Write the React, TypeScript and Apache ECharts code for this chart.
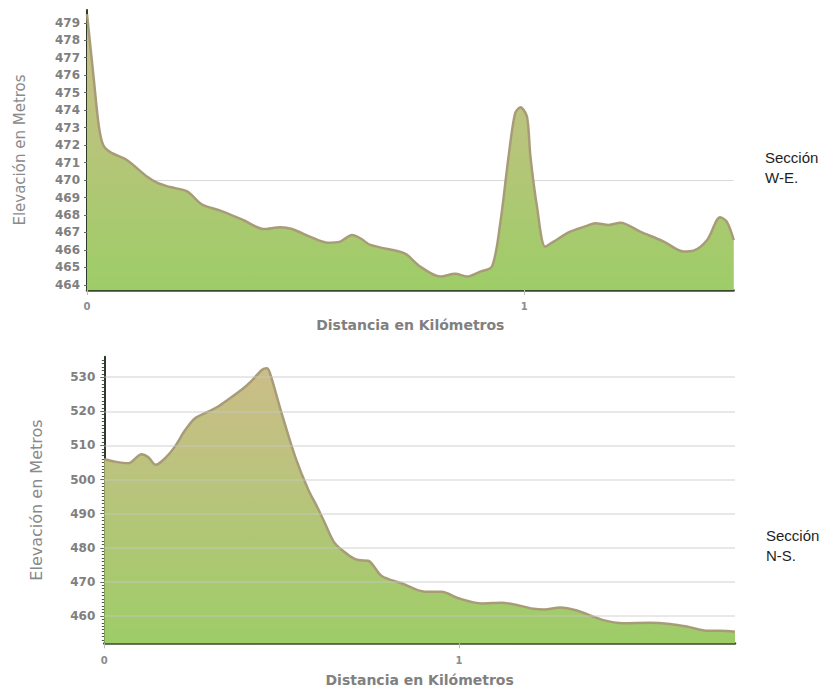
import React, { useEffect, useRef } from "react";
import * as echarts from "echarts";

// W-E section (top)
const weKm = [0, 0.015, 0.027, 0.037, 0.053, 0.091, 0.137, 0.16, 0.19, 0.229, 0.263, 0.305, 0.358, 0.404, 0.442, 0.469, 0.511, 0.549, 0.579, 0.606, 0.625, 0.648, 0.716, 0.732, 0.762, 0.808, 0.842, 0.869, 0.899, 0.926, 0.945, 0.964, 0.979, 0.991, 1.006, 1.014, 1.029, 1.048, 1.067, 1.105, 1.143, 1.162, 1.193, 1.22, 1.265, 1.319, 1.364, 1.387, 1.418, 1.448, 1.463, 1.479];
const weElev = [479.5, 475.9, 473.1, 472.0, 471.6, 471.15, 470.2, 469.85, 469.6, 469.35, 468.6, 468.25, 467.7, 467.2, 467.3, 467.2, 466.75, 466.42, 466.48, 466.86, 466.67, 466.29, 465.9, 465.72, 465.05, 464.48, 464.64, 464.48, 464.76, 465.05, 467.53, 471.34, 473.82, 474.16, 473.63, 471.34, 468.48, 466.19, 466.48, 467.05, 467.38, 467.53, 467.43, 467.56, 467.05, 466.48, 465.91, 465.96, 466.57, 467.87, 467.62, 466.57];
const weYTicks = [464, 465, 466, 467, 468, 469, 470, 471, 472, 473, 474, 475, 476, 477, 478, 479];
const weGrid = [470];

// N-S section (bottom)
const nsKm = [0, 0.03, 0.068, 0.105, 0.124, 0.145, 0.171, 0.199, 0.228, 0.256, 0.293, 0.321, 0.35, 0.387, 0.416, 0.444, 0.458, 0.467, 0.5, 0.538, 0.575, 0.6, 0.622, 0.65, 0.688, 0.716, 0.744, 0.782, 0.838, 0.904, 0.951, 0.998, 1.064, 1.12, 1.177, 1.21, 1.24, 1.285, 1.332, 1.407, 1.463, 1.538, 1.595, 1.642, 1.698, 1.736, 1.778];
const nsElev = [505.95, 505.25, 504.8, 507.4, 506.5, 504.3, 506.2, 509.65, 514.5, 517.97, 519.9, 521.4, 523.5, 526.3, 529.0, 532.1, 532.6, 531.2, 519.4, 506.7, 497.0, 492.0, 487.2, 481.3, 477.9, 476.4, 476.2, 471.7, 469.6, 467.1, 467.1, 465.2, 463.7, 463.9, 462.9, 462.1, 461.9, 462.5, 461.6, 458.8, 457.9, 458.0, 457.65, 456.9, 455.7, 455.7, 455.4];
const nsYTicks = [460, 470, 480, 490, 500, 510, 520, 530];

const xTicks = [0, 1];
const weXMax = 1.4786;
const nsXMax = 1.778;

const labelGray = "#808080";

function areaGradient() {
  return new echarts.graphic.LinearGradient(0, 0, 0, 1, [
    { offset: 0, color: "#cbbd88" },
    { offset: 0.45, color: "#b8c47b" },
    { offset: 1, color: "#9dcd67" },
  ]);
}

export default function App() {
  const ref = useRef<HTMLDivElement>(null);
  useEffect(() => {
    if (!ref.current) return;
    const chart = echarts.init(ref.current, undefined, { renderer: "svg" });
    const weData = weKm.map((k, i) => [k, weElev[i]]);
    const nsData = nsKm.map((k, i) => [k, nsElev[i]]);

    const xAxisCommon = (gridIndex: number, max: number, gap: number, margin: number) => ({
      gridIndex,
      type: "value",
      min: 0,
      max,
      axisLine: { show: true, onZero: false, lineStyle: { color: "#3b4a2e", width: 2.5 } },
      axisTick: { show: true, customValues: xTicks, length: 5, lineStyle: { color: "#bbbbbb" } },
      axisLabel: {
        customValues: xTicks,
        margin,
        fontSize: 10,
        fontWeight: "bold",
        color: "#8c8c8c",
        fontFamily: "DejaVu Sans",
      },
      splitLine: { show: false },
      name: "Distancia en Kilómetros",
      nameLocation: "middle",
      nameGap: gap,
      nameTextStyle: { fontSize: 14, fontWeight: "bold", color: labelGray, fontFamily: "DejaVu Sans" },
    });

    const option: any = {
      animation: false,
      grid: [
        { left: 87, top: 10, width: 646.6, height: 280 },
        { left: 104.3, top: 356.7, width: 630.7, height: 286.6 },
      ],
      xAxis: [xAxisCommon(0, weXMax, 28, 11), xAxisCommon(1, nsXMax, 30, 12)],
      yAxis: [
        {
          gridIndex: 0,
          type: "value",
          min: 463.71,
          max: 479.73,
          axisLine: { show: true, onZero: false, lineStyle: { color: "#2d3a26", width: 2 } },
          axisTick: { show: true, customValues: weYTicks, length: 3, lineStyle: { color: "#666" } },
          axisLabel: {
            customValues: weYTicks,
            margin: 7,
            fontSize: 12,
            fontWeight: "bold",
            color: labelGray,
            fontFamily: "DejaVu Sans",
          },
          splitLine: { show: false },
          name: "Elevación en Metros",
          nameLocation: "middle",
          nameGap: 60,
          nameTextStyle: { fontSize: 15, color: "#8a8a8a", fontFamily: "DejaVu Sans" },
        },
        {
          gridIndex: 1,
          type: "value",
          min: 452,
          max: 536,
          splitNumber: 8,
          axisLine: { show: true, onZero: false, lineStyle: { color: "#2d3a26", width: 2 } },
          axisTick: { show: true, customValues: nsYTicks, length: 4, lineStyle: { color: "#666" } },
          minorTick: { show: true, splitNumber: 10, length: 2.5, lineStyle: { color: "#555" } },
          axisLabel: {
            customValues: nsYTicks,
            margin: 9,
            fontSize: 12,
            fontWeight: "bold",
            color: labelGray,
            fontFamily: "DejaVu Sans",
          },
          splitLine: { show: false },
          name: "Elevación en Metros",
          nameLocation: "middle",
          nameGap: 60,
          nameTextStyle: { fontSize: 16, color: "#8a8a8a", fontFamily: "DejaVu Sans" },
        },
      ],
      series: [
        {
          type: "line",
          xAxisIndex: 0,
          yAxisIndex: 0,
          data: weData,
          smooth: 0.3,
          symbol: "none",
          lineStyle: { color: "#a89c78", width: 2.5 },
          areaStyle: { color: areaGradient(), opacity: 1 },
          markLine: {
            silent: true,
            symbol: "none",
            z: 1,
            label: { show: false },
            lineStyle: { color: "#d9d9d9", width: 1, type: "solid" },
            data: weGrid.map((v) => ({ yAxis: v })),
          },
        },
        {
          type: "line",
          xAxisIndex: 1,
          yAxisIndex: 1,
          data: nsData,
          smooth: 0.3,
          symbol: "none",
          lineStyle: { color: "#a89c78", width: 2.5 },
          areaStyle: { color: areaGradient(), opacity: 1 },
          markLine: {
            silent: true,
            symbol: "none",
            label: { show: false },
            lineStyle: { color: "rgba(200,200,200,0.55)", width: 1.5, type: "solid" },
            data: [
              ...nsYTicks.map((v) => ({ yAxis: v })),
              { xAxis: nsXMax, lineStyle: { color: "#d5d5d5", width: 1.5 } },
            ],
          },
        },
      ],
      graphic: [
        {
          type: "text",
          x: 765,
          y: 147,
          style: {
            text: "Sección\nW-E.",
            fontSize: 15,
            fontFamily: "Liberation Sans",
            fill: "#1e1e1e",
            lineHeight: 20,
            verticalAlign: "top",
          },
        },
        {
          type: "text",
          x: 766,
          y: 525.5,
          style: {
            text: "Sección\nN-S.",
            fontSize: 15,
            fontFamily: "Liberation Sans",
            fill: "#1e1e1e",
            lineHeight: 20,
            verticalAlign: "top",
          },
        },
      ],
    };
    chart.setOption(option);
    return () => chart.dispose();
  }, []);
  return (
    <div
      ref={ref}
      style={{ position: "absolute", left: 0, top: 0, width: 824, height: 691, background: "#fff" }}
    />
  );
}
